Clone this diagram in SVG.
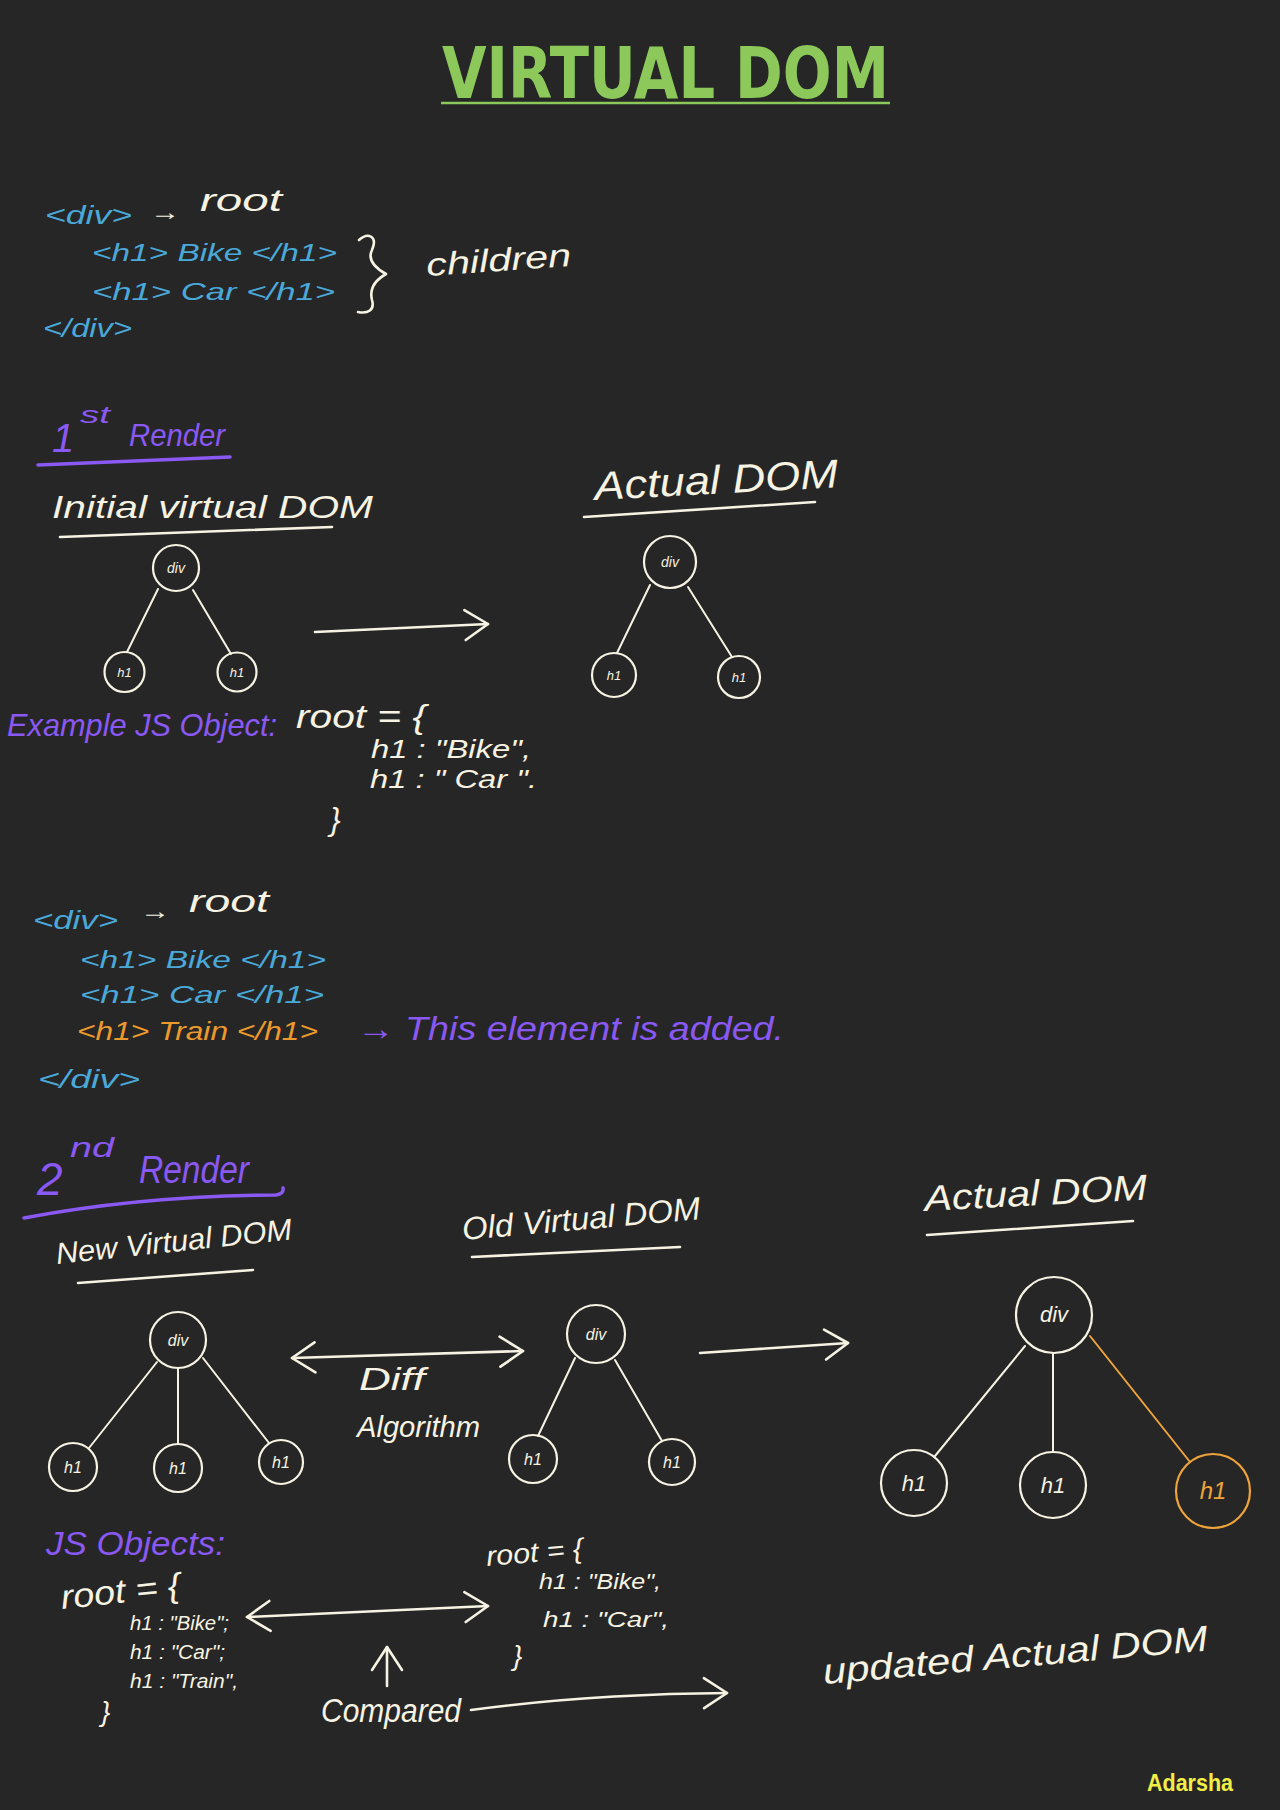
<svg xmlns="http://www.w3.org/2000/svg" width="1280" height="1810" viewBox="0 0 1280 1810">
<defs>
<style>
text{font-family:"Liberation Sans",Arial,sans-serif;font-style:italic}
.w{fill:#f6f3e3}
.b{fill:#4aa9d9}
.p{fill:#8a58f2}
.o{fill:#ec9a2c}
.title{font-family:"DejaVu Sans","Liberation Sans",sans-serif;font-style:normal;font-weight:bold;fill:#8cc95a}
.sig{font-style:normal;font-weight:bold;fill:#f2ee45}
.node circle{fill:none;stroke:#f6f3e3;stroke-width:2.2}
.node.new circle{stroke:#eea43a}
.node text{fill:#f6f3e3;text-anchor:middle}
.node.new text{fill:#eea43a}
.edge{stroke:#f6f3e3;stroke-width:2;fill:none;stroke-linecap:round}
.edge.new{stroke:#eea43a}
.ink{stroke:#f6f3e3;stroke-width:2.6;fill:none;stroke-linecap:round;stroke-linejoin:round}
.pu{stroke:#8a58f2;stroke-width:3.5;fill:none;stroke-linecap:round}
.arrow{stroke:#f6f3e3;stroke-width:2.6;fill:none;stroke-linecap:round;marker-end:url(#chev)}
.arrow2{stroke:#f6f3e3;stroke-width:2.6;fill:none;stroke-linecap:round;marker-end:url(#chev);marker-start:url(#chevs)}
</style>
<marker id="chev" viewBox="0 0 28 34" refX="25" refY="17" markerWidth="28" markerHeight="34" markerUnits="userSpaceOnUse" orient="auto">
<path d="M2,2 L25,17 L2,32" fill="none" stroke="#f6f3e3" stroke-width="2.6" stroke-linecap="round" stroke-linejoin="round"/>
</marker>
<marker id="chevs" viewBox="0 0 28 34" refX="3" refY="17" markerWidth="28" markerHeight="34" markerUnits="userSpaceOnUse" orient="auto">
<path d="M26,2 L3,17 L26,32" fill="none" stroke="#f6f3e3" stroke-width="2.6" stroke-linecap="round" stroke-linejoin="round"/>
</marker>
</defs>
<rect width="1280" height="1810" fill="#262626"/>

<!-- Title -->
<g id="title">
<text class="title" x="442" y="98" font-size="71" textLength="447" lengthAdjust="spacingAndGlyphs">VIRTUAL DOM</text>
<line x1="441" y1="103" x2="890" y2="103" stroke="#8cc95a" stroke-width="2.5"/>
</g>

<!-- Section 1: markup -->
<g id="markup1">
<text class="b" x="45" y="224" font-size="26" textLength="87" lengthAdjust="spacingAndGlyphs">&lt;div&gt;</text>
<text class="w" x="150" y="220" font-size="24" textLength="30" lengthAdjust="spacingAndGlyphs">→</text>
<text class="w" x="200" y="211" font-size="32" textLength="82" lengthAdjust="spacingAndGlyphs">root</text>
<text class="b" x="92" y="261" font-size="24" textLength="245" lengthAdjust="spacingAndGlyphs">&lt;h1&gt; Bike &lt;/h1&gt;</text>
<text class="b" x="92" y="300" font-size="24" textLength="243" lengthAdjust="spacingAndGlyphs">&lt;h1&gt; Car &lt;/h1&gt;</text>
<text class="b" x="43" y="337" font-size="26" textLength="89" lengthAdjust="spacingAndGlyphs">&lt;/div&gt;</text>
<path class="ink" d="M359,240 C368,232 378,236 372,250 C368,258 372,266 386,274 C372,282 370,292 372,300 C375,310 368,314 358,312"/>
<text class="w" x="427" y="276" font-size="32" textLength="145" lengthAdjust="spacingAndGlyphs" transform="rotate(-4 427 276)">children</text>
</g>

<!-- 1st Render -->
<g id="render1-heading">
<text class="p" x="52" y="452" font-size="40">1</text>
<text class="p" x="80" y="423" font-size="24" textLength="30" lengthAdjust="spacingAndGlyphs">st</text>
<text class="p" x="129" y="446" font-size="32" textLength="96" lengthAdjust="spacingAndGlyphs">Render</text>
<path class="pu" d="M38,465 L230,457"/>
</g>
<g id="initial-vdom-label">
<text class="w" x="52" y="518" font-size="32" textLength="321" lengthAdjust="spacingAndGlyphs">Initial virtual DOM</text>
<path class="ink" d="M60,537 L332,527"/>
</g>
<g id="actual-dom-label-1">
<text class="w" x="595" y="500" font-size="40" textLength="244" lengthAdjust="spacingAndGlyphs" transform="rotate(-3 595 500)">Actual DOM</text>
<path class="ink" d="M584,517 L815,502"/>
</g>

<!-- Connectors -->
<g id="connectors">
<!-- tree 1 -->
<line class="edge" x1="158" y1="589" x2="127" y2="652"/>
<line class="edge" x1="193" y1="590" x2="231" y2="654"/>
<!-- tree 2 -->
<line class="edge" x1="650" y1="585" x2="617" y2="653"/>
<line class="edge" x1="688" y1="587" x2="732" y2="657"/>
<!-- render 1 arrow -->
<path class="arrow" d="M315,632 L488,624"/>
<!-- tree 3 -->
<line class="edge" x1="157" y1="1362" x2="89" y2="1448"/>
<line class="edge" x1="178" y1="1368" x2="178" y2="1444"/>
<line class="edge" x1="203" y1="1358" x2="269" y2="1443"/>
<!-- diff arrow -->
<path class="arrow2" d="M292,1358 L523,1351"/>
<!-- tree 4 -->
<line class="edge" x1="575" y1="1358" x2="538" y2="1436"/>
<line class="edge" x1="615" y1="1360" x2="662" y2="1441"/>
<!-- old -> actual arrow -->
<path class="arrow" d="M700,1353 L848,1343"/>
<!-- tree 5 -->
<line class="edge" x1="1025" y1="1346" x2="935" y2="1456"/>
<line class="edge" x1="1053" y1="1353" x2="1053" y2="1452"/>
<line class="edge new" x1="1090" y1="1336" x2="1190" y2="1462"/>
<!-- compared arrows -->
<path class="arrow2" d="M247,1617 L488,1606"/>
<path class="arrow" d="M387,1686 L387,1647"/>
<path class="arrow" d="M471,1710 Q590,1694 727,1693"/>
</g>

<!-- Tree 1: Initial virtual DOM -->
<g id="t1-div" class="node"><circle cx="176" cy="568" r="23"/><text x="176" y="573" font-size="14">div</text></g>
<g id="t1-h1a" class="node"><circle cx="124.5" cy="672" r="20"/><text x="124.5" y="677" font-size="13">h1</text></g>
<g id="t1-h1b" class="node"><circle cx="237" cy="672" r="19.5"/><text x="237" y="677" font-size="13">h1</text></g>

<!-- Tree 2: Actual DOM (1st) -->
<g id="t2-div" class="node"><circle cx="670" cy="562" r="26"/><text x="670" y="567" font-size="14">div</text></g>
<g id="t2-h1a" class="node"><circle cx="614" cy="675" r="22"/><text x="614" y="680" font-size="13">h1</text></g>
<g id="t2-h1b" class="node"><circle cx="739" cy="677" r="21"/><text x="739" y="682" font-size="13">h1</text></g>

<!-- Example JS object -->
<g id="example-object">
<text class="p" x="7" y="736" font-size="32" textLength="270" lengthAdjust="spacingAndGlyphs">Example JS Object:</text>
<text class="w" x="296" y="728" font-size="34" textLength="130" lengthAdjust="spacingAndGlyphs">root = {</text>
<text class="w" x="371" y="758" font-size="26" textLength="160" lengthAdjust="spacingAndGlyphs">h1 : "Bike",</text>
<text class="w" x="370" y="788" font-size="26" textLength="167" lengthAdjust="spacingAndGlyphs">h1 : " Car ".</text>
<text class="w" x="330" y="830" font-size="32">}</text>
</g>

<!-- Section 2: markup -->
<g id="markup2">
<text class="b" x="33" y="929" font-size="26" textLength="85" lengthAdjust="spacingAndGlyphs">&lt;div&gt;</text>
<text class="w" x="140" y="919" font-size="24" textLength="30" lengthAdjust="spacingAndGlyphs">→</text>
<text class="w" x="189" y="912" font-size="32" textLength="80" lengthAdjust="spacingAndGlyphs">root</text>
<text class="b" x="80" y="968" font-size="24" textLength="246" lengthAdjust="spacingAndGlyphs">&lt;h1&gt; Bike &lt;/h1&gt;</text>
<text class="b" x="80" y="1003" font-size="24" textLength="244" lengthAdjust="spacingAndGlyphs">&lt;h1&gt; Car &lt;/h1&gt;</text>
<text class="o" x="77" y="1040" font-size="26" textLength="241" lengthAdjust="spacingAndGlyphs">&lt;h1&gt; Train &lt;/h1&gt;</text>
<text class="p" x="357" y="1040" font-size="34" textLength="427" lengthAdjust="spacingAndGlyphs">→ This element is added.</text>
<text class="b" x="38" y="1088" font-size="26" textLength="102" lengthAdjust="spacingAndGlyphs">&lt;/div&gt;</text>
</g>

<!-- 2nd Render -->
<g id="render2-heading">
<text class="p" x="37" y="1195" font-size="46">2</text>
<text class="p" x="70" y="1157" font-size="28" textLength="44" lengthAdjust="spacingAndGlyphs">nd</text>
<text class="p" x="139" y="1183" font-size="38" textLength="110" lengthAdjust="spacingAndGlyphs">Render</text>
<path class="pu" d="M24,1218 Q140,1196 276,1195 Q284,1194 283,1188"/>
</g>
<g id="new-vdom-label">
<text class="w" x="57" y="1264" font-size="30" textLength="237" lengthAdjust="spacingAndGlyphs" transform="rotate(-6 57 1264)">New Virtual DOM</text>
<path class="ink" d="M78,1283 L253,1270"/>
</g>
<g id="old-vdom-label">
<text class="w" x="463" y="1240" font-size="32" textLength="239" lengthAdjust="spacingAndGlyphs" transform="rotate(-5 463 1240)">Old Virtual DOM</text>
<path class="ink" d="M472,1257 L680,1247"/>
</g>
<g id="actual-dom-label-2">
<text class="w" x="925" y="1211" font-size="36" textLength="223" lengthAdjust="spacingAndGlyphs" transform="rotate(-3 925 1211)">Actual DOM</text>
<path class="ink" d="M927,1235 L1133,1221"/>
</g>
<g id="diff-label">
<text class="w" x="359" y="1390" font-size="32" textLength="66" lengthAdjust="spacingAndGlyphs">Diff</text>
<text class="w" x="357" y="1437" font-size="30" textLength="123" lengthAdjust="spacingAndGlyphs">Algorithm</text>
</g>

<!-- Tree 3: New Virtual DOM -->
<g id="t3-div" class="node"><circle cx="178" cy="1340" r="28"/><text x="178" y="1346" font-size="16">div</text></g>
<g id="t3-h1a" class="node"><circle cx="73" cy="1467" r="24"/><text x="73" y="1473" font-size="16">h1</text></g>
<g id="t3-h1b" class="node"><circle cx="178" cy="1468" r="24"/><text x="178" y="1474" font-size="16">h1</text></g>
<g id="t3-h1c" class="node"><circle cx="281" cy="1462" r="22"/><text x="281" y="1468" font-size="16">h1</text></g>

<!-- Tree 4: Old Virtual DOM -->
<g id="t4-div" class="node"><circle cx="596" cy="1334" r="29"/><text x="596" y="1340" font-size="16">div</text></g>
<g id="t4-h1a" class="node"><circle cx="533" cy="1459" r="24"/><text x="533" y="1465" font-size="16">h1</text></g>
<g id="t4-h1b" class="node"><circle cx="672" cy="1462" r="23"/><text x="672" y="1468" font-size="16">h1</text></g>

<!-- Tree 5: Actual DOM (2nd) -->
<g id="t5-div" class="node"><circle cx="1054" cy="1315" r="38"/><text x="1054" y="1322" font-size="22">div</text></g>
<g id="t5-h1a" class="node"><circle cx="914" cy="1483" r="33"/><text x="914" y="1491" font-size="22">h1</text></g>
<g id="t5-h1b" class="node"><circle cx="1053" cy="1485" r="33"/><text x="1053" y="1493" font-size="22">h1</text></g>
<g id="t5-h1c" class="node new"><circle cx="1213" cy="1491" r="37"/><text x="1213" y="1499" font-size="24">h1</text></g>

<!-- JS objects -->
<g id="js-objects">
<text class="p" x="46" y="1555" font-size="34" textLength="179" lengthAdjust="spacingAndGlyphs">JS Objects:</text>
<text class="w" x="62" y="1609" font-size="34" textLength="120" lengthAdjust="spacingAndGlyphs" transform="rotate(-6 62 1609)">root = {</text>
<text class="w" x="130" y="1630" font-size="20" textLength="99" lengthAdjust="spacingAndGlyphs">h1 : "Bike";</text>
<text class="w" x="130" y="1659" font-size="20" textLength="95" lengthAdjust="spacingAndGlyphs">h1 : "Car";</text>
<text class="w" x="130" y="1688" font-size="20" textLength="108" lengthAdjust="spacingAndGlyphs">h1 : "Train",</text>
<text class="w" x="101" y="1721" font-size="28">}</text>
</g>
<g id="old-object">
<text class="w" x="487" y="1566" font-size="28" textLength="97" lengthAdjust="spacingAndGlyphs" transform="rotate(-5 487 1566)">root = {</text>
<text class="w" x="539" y="1589" font-size="22" textLength="122" lengthAdjust="spacingAndGlyphs">h1 : "Bike",</text>
<text class="w" x="543" y="1627" font-size="22" textLength="126" lengthAdjust="spacingAndGlyphs">h1 : "Car",</text>
<text class="w" x="513" y="1665" font-size="28">}</text>
</g>
<g id="compared-label">
<text class="w" x="321" y="1722" font-size="34" textLength="140" lengthAdjust="spacingAndGlyphs">Compared</text>
</g>
<g id="updated-label">
<text class="w" x="824" y="1684" font-size="36" textLength="386" lengthAdjust="spacingAndGlyphs" transform="rotate(-5 824 1684)">updated Actual DOM</text>
</g>
<g id="signature">
<text class="sig" x="1147" y="1791" font-size="24" textLength="86" lengthAdjust="spacingAndGlyphs">Adarsha</text>
</g>
</svg>
